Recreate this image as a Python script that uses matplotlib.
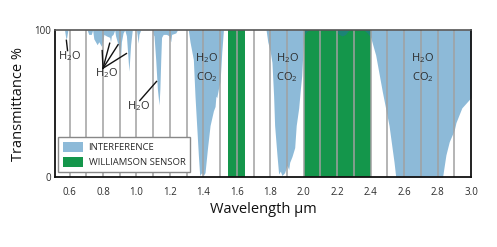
import matplotlib
matplotlib.use("Agg")
import matplotlib.pyplot as plt
from matplotlib.patches import Patch
import numpy as np

plt.rcParams['font.family'] = ['Open Sans', 'DejaVu Sans']
plt.rcParams['mathtext.default'] = 'regular'

# Interference: transmittance curve (absorption fills from curve up to 100 %)
wavelength = [0.513, 0.570, 0.578, 0.583, 0.590,
              0.705, 0.715, 0.730, 0.738, 0.745, 0.765, 0.775, 0.790, 0.800, 0.805,
              0.820, 0.840, 0.845, 0.850, 0.860, 0.870, 0.875, 0.890, 0.905, 0.910,
              0.920, 0.930, 0.940, 0.955, 0.965, 0.975, 1.000, 1.005, 1.010, 1.015, 1.025,
              1.095, 1.100, 1.105, 1.115, 1.125, 1.135, 1.140, 1.145, 1.150, 1.160,
              1.180, 1.195, 1.205, 1.210, 1.235, 1.245,
              1.300, 1.310, 1.320, 1.340, 1.350, 1.360, 1.370, 1.378, 1.390, 1.400,
              1.410, 1.425, 1.440, 1.460, 1.470, 1.475, 1.480, 1.490, 1.500, 1.510, 1.520,
              1.775, 1.785, 1.800, 1.810, 1.820, 1.826, 1.840, 1.850, 1.860, 1.870,
              1.886, 1.900, 1.910, 1.916, 1.930, 1.946, 1.955, 1.970, 1.980, 1.988,
              1.995, 2.000, 2.010, 2.030,
              2.190, 2.210, 2.230, 2.250, 2.270,
              2.360, 2.380, 2.400, 2.430, 2.470, 2.510, 2.540, 2.550,
              2.830, 2.850, 2.870, 2.900, 2.910, 2.945, 3.000]
transmittance = [100, 100, 94, 95, 100,
                 100, 97, 97, 100, 94, 90, 92, 89, 93, 97,
                 96, 95, 92, 96, 97, 100, 96, 90, 82, 92,
                 98, 100, 96, 72, 90, 100, 100, 96, 91, 97, 100,
                 100, 97, 96, 80, 60, 49, 60, 79, 95, 97,
                 97, 96, 92, 97, 98, 100,
                 100, 100, 92, 80, 55, 35, 15, 1, 3, 1,
                 3, 20, 35, 45, 48, 55, 54, 60, 65, 85, 100,
                 100, 92, 85, 78, 55, 35, 15, 2, 4, 1,
                 3, 8, 5, 10, 14, 20, 35, 47, 60, 69,
                 85, 95, 98, 100,
                 100, 97, 96, 97, 100,
                 100, 98, 95, 83, 58, 35, 10, 0,
                 0, 15, 24, 32, 37, 47, 54]

# Williamson sensor bands
sensor_start = [1.55, 2.00]
sensor_end = [1.65, 2.40]

# Labels
x_ticks = [0.6, 0.8, 1.0, 1.2, 1.4, 1.6, 1.8, 2.0, 2.2, 2.4, 2.6, 2.8, 3.0]
x_tick_labels = ['0.6', '0.8', '1.0', '1.2', '1.4', '1.6', '1.8', '2.0',
                 '2.2', '2.4', '2.6', '2.8', '3.0']
grid_lines = [round(0.6 + 0.1 * i, 1) for i in range(24)]

blue = '#8dbad8'
green = '#14964b'
teal = '#1b8476'
txt = '#2b2b2b'

fig = plt.figure(figsize=(4.97, 2.47), dpi=100)
ax = fig.add_axes([55 / 497, 1 - 177 / 247, 416 / 497, 147 / 247])

lam = np.array(wavelength)
tr = np.array(transmittance)

ax.fill_between(lam, tr, 100, color=blue, lw=0, zorder=1)
for s, e in zip(sensor_start, sensor_end):
    ax.axvspan(s, e, color=green, lw=0, zorder=2)
in_sensor = np.zeros_like(lam, dtype=bool)
for s, e in zip(sensor_start, sensor_end):
    in_sensor |= (lam >= s - 1e-9) & (lam <= e + 1e-9)
ax.fill_between(lam, tr, 100, where=in_sensor, color=teal, lw=0, zorder=3)

for g in grid_lines:
    ax.axvline(g, color='#a0a0a0', lw=1.1, zorder=4)

ax.set_xlim(0.513, 3.0)
ax.set_ylim(0, 100)
ax.set_xticks(x_ticks)
ax.set_xticklabels(x_tick_labels)
ax.set_yticks([0, 100])
ax.set_yticklabels(['0', '100'])
ax.tick_params(axis='both', length=0, labelsize=7, colors=txt)
ax.tick_params(axis='x', pad=7)
ax.tick_params(axis='y', pad=3)

for side in ['left', 'right', 'bottom']:
    ax.spines[side].set_color('#111111')
    ax.spines[side].set_linewidth(1.3)
ax.spines['top'].set_color('#555555')
ax.spines['top'].set_linewidth(1.2)
for sp in ax.spines.values():
    sp.set_zorder(6)

ax.set_xlabel('Wavelength μm', fontsize=10.5, color='#111111', labelpad=3)
ax.set_ylabel('Transmittance %', fontsize=10.5, color='#111111', labelpad=6)

# Annotations
fs = 8
ax.text(0.60, 82, 'H$_2$O', fontsize=fs, color=txt, ha='center', va='center', zorder=7)
ax.plot([0.581, 0.588], [93, 86], color='#111111', lw=1, zorder=7)

ax.text(0.82, 71, 'H$_2$O', fontsize=fs, color=txt, ha='center', va='center', zorder=7)
hub = (0.80, 74)
for tx, ty in [(0.795, 86), (0.84, 91), (0.89, 90), (0.94, 84)]:
    ax.plot([hub[0], tx], [hub[1], ty], color='#111111', lw=1, zorder=7)

ax.text(1.01, 48, 'H$_2$O', fontsize=fs, color=txt, ha='center', va='center', zorder=7)
ax.plot([1.02, 1.12], [52, 65], color='#111111', lw=1, zorder=7)

for cx in [1.42, 1.90, 2.71]:
    ax.text(cx, 81, 'H$_2$O', fontsize=fs, color=txt, ha='center', va='center', zorder=7)
    ax.text(cx, 68, 'CO$_2$', fontsize=fs, color=txt, ha='center', va='center', zorder=7)

handles = [Patch(facecolor=blue, edgecolor='none', label='INTERFERENCE'),
           Patch(facecolor=green, edgecolor='none', label='WILLIAMSON SENSOR')]
leg = ax.legend(handles=handles, loc='lower left', bbox_to_anchor=(0.007, 0.034),
                fontsize=6.8, frameon=True, fancybox=False, framealpha=1,
                edgecolor='#888888', handlelength=2.2, handleheight=1.25,
                borderpad=0.5, labelspacing=0.5, handletextpad=0.55,
                borderaxespad=0)
leg.get_frame().set_linewidth(1.0)
leg.set_zorder(8)
for t in leg.get_texts():
    t.set_color(txt)

fig.savefig('out.png', dpi=100)
